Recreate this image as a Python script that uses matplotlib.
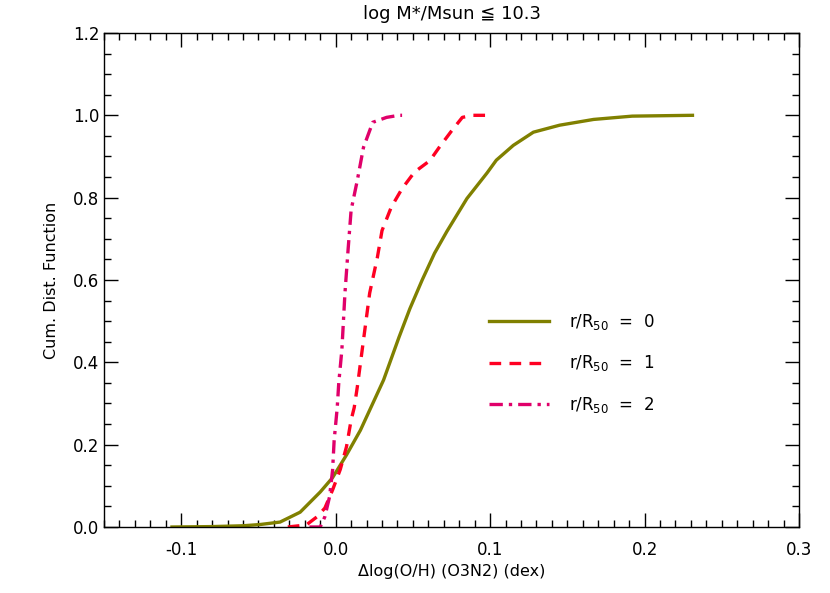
import matplotlib
matplotlib.use("Agg")
import matplotlib.pyplot as plt
from matplotlib.ticker import MultipleLocator, FormatStrFormatter

# Data
x0 = [-0.106, -0.08, -0.06, -0.049, -0.036, -0.023, -0.010, -0.002, 0.007, 0.016, 0.024,
      0.031, 0.041, 0.048, 0.056, 0.064, 0.072, 0.085, 0.098, 0.104, 0.115, 0.128,
      0.145, 0.167, 0.192, 0.231]
y0 = [0.0, 0.001, 0.003, 0.006, 0.012, 0.036, 0.085, 0.12, 0.175, 0.235, 0.30,
      0.357, 0.461, 0.53, 0.60, 0.665, 0.718, 0.798, 0.86, 0.891, 0.927, 0.959,
      0.976, 0.99, 0.998, 1.0]

x1 = [-0.031, -0.019, -0.012, -0.007, -0.002, 0.003, 0.007, 0.010, 0.012, 0.014, 0.018,
      0.022, 0.027, 0.030, 0.036, 0.043, 0.051, 0.061, 0.067, 0.075, 0.082, 0.089, 0.098]
y1 = [0.0, 0.005, 0.025, 0.046, 0.09, 0.14, 0.195, 0.26, 0.29, 0.34, 0.454,
      0.568, 0.655, 0.72, 0.777, 0.822, 0.862, 0.89, 0.922, 0.962, 0.995, 1.0, 1.0]

x2 = [-0.017, -0.010, -0.007, -0.004, -0.002, -0.001, 0.001, 0.002, 0.004, 0.006, 0.008,
      0.010, 0.014, 0.018, 0.024, 0.033, 0.041, 0.043]
y2 = [0.0, 0.0, 0.025, 0.073, 0.138, 0.21, 0.29, 0.35, 0.43, 0.568, 0.672,
      0.77, 0.842, 0.922, 0.983, 0.995, 1.0, 1.0]

labels = [r"r/R$_{\mathregular{50}}$  =  0", r"r/R$_{\mathregular{50}}$  =  1", r"r/R$_{\mathregular{50}}$  =  2"]
title = "log M*/Msun ≦ 10.3"
xlabel = "Δlog(O/H) (O3N2) (dex)"
ylabel = "Cum. Dist. Function"

plt.rcParams['font.family'] = ['DejaVu Sans']
fig = plt.figure(figsize=(8.3, 5.93), dpi=100)
ax = fig.add_axes([0.1253, 0.1113, 0.8374, 0.8331])

ax.plot(x0, y0, color='#808000', lw=2.4, ls='-', label=labels[0])
ax.plot(x1, y1, color='#ff0022', lw=2.4, ls=(0, (3.5, 2.5)), label=labels[1])
ax.plot(x2, y2, color='#e0006a', lw=2.4, ls=(0, (4, 1.8, 1, 1.8)), label=labels[2])

ax.set_xlim(-0.15, 0.3)
ax.set_ylim(0, 1.2)
ax.xaxis.set_major_locator(MultipleLocator(0.1))
ax.xaxis.set_minor_locator(MultipleLocator(0.01))
ax.yaxis.set_major_locator(MultipleLocator(0.2))
ax.yaxis.set_minor_locator(MultipleLocator(0.05))
ax.xaxis.set_major_formatter(FormatStrFormatter('%.1f'))
ax.yaxis.set_major_formatter(FormatStrFormatter('%.1f'))
ax.tick_params(which='both', direction='in', top=True, right=True, labelsize=12, width=1)
ax.tick_params(which='major', length=10)
ax.tick_params(which='minor', length=5)
ax.tick_params(axis='x', pad=10)
for s in ax.spines.values():
    s.set_linewidth(1)

ax.set_title(title, fontsize=13, pad=10)
ax.set_xlabel(xlabel, fontsize=11.5, labelpad=4)
ax.set_ylabel(ylabel, fontsize=11.5, labelpad=10)

leg = ax.legend(loc='upper left', bbox_to_anchor=(0.533, 0.466), frameon=False,
                fontsize=12, handlelength=3.6, labelspacing=1.3, handletextpad=1.2)

fig.savefig("out.png", dpi=100)
